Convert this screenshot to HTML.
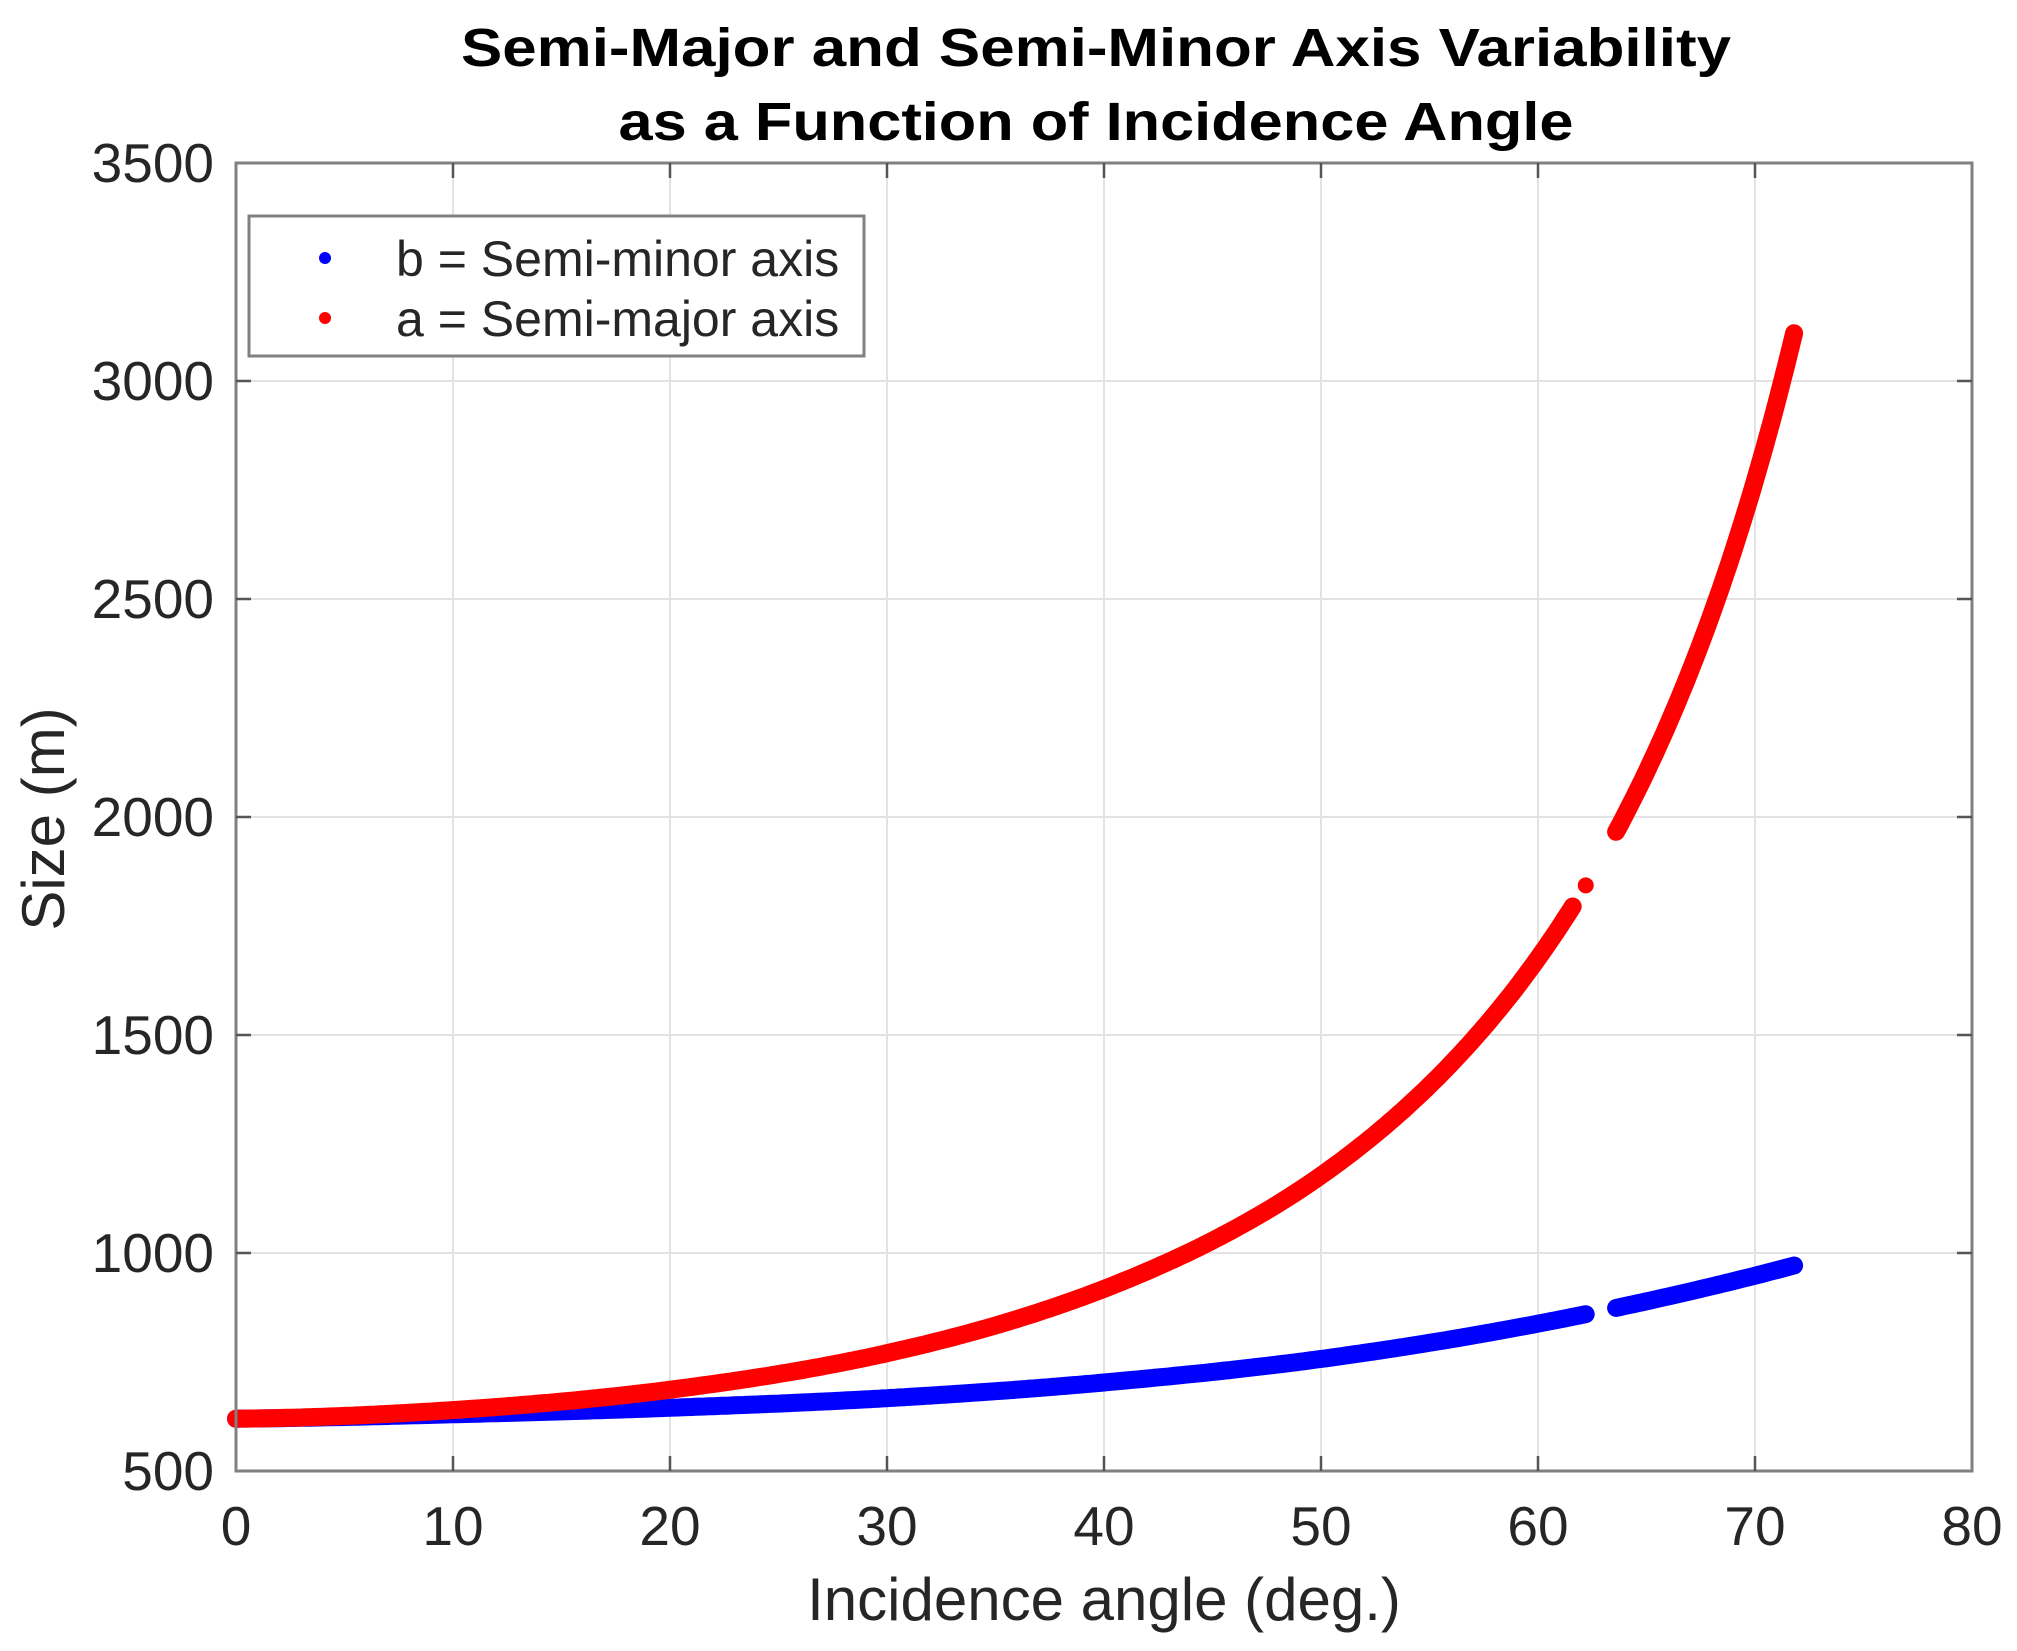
<!DOCTYPE html>
<html><head><meta charset="utf-8"><style>
html,body{margin:0;padding:0;background:#fff;}
svg{display:block;font-family:"Liberation Sans",Arial,sans-serif;}
</style></head><body>
<svg id="s" width="2017" height="1651" viewBox="0 0 2017 1651" xmlns="http://www.w3.org/2000/svg">
<rect width="2017" height="1651" fill="#fff"/>
<g id="grid" stroke="#e3e3e3" stroke-width="2"></g>
<g id="data" fill="none" stroke-linecap="round" stroke-linejoin="round"></g>
<rect x="236" y="163" width="1736" height="1308" fill="none" stroke="#808080" stroke-width="3"/>
<g id="ticks" stroke="#555" stroke-width="2.5"></g>
<g id="labels" fill="#262626" font-size="55"></g>
<text x="1096" y="66" text-anchor="middle" font-size="54" font-weight="bold" fill="#000" textLength="1270" lengthAdjust="spacingAndGlyphs">Semi-Major and Semi-Minor Axis Variability</text>
<text x="1096" y="140" text-anchor="middle" font-size="54" font-weight="bold" fill="#000" textLength="955" lengthAdjust="spacingAndGlyphs">as a Function of Incidence Angle</text>
<text x="1104" y="1620" text-anchor="middle" font-size="60" fill="#262626">Incidence angle (deg.)</text>
<text transform="translate(64,819) rotate(-90)" text-anchor="middle" font-size="60" fill="#262626">Size (m)</text>
<rect x="249" y="216" width="615" height="140" fill="#fff" stroke="#808080" stroke-width="3"/>
<circle cx="325" cy="258" r="6" fill="#0000ff"/>
<circle cx="325" cy="318" r="6" fill="#ff0000"/>
<text x="396" y="276" font-size="50" fill="#262626">b = Semi-minor axis</text>
<text x="396" y="336" font-size="50" fill="#262626">a = Semi-major axis</text>
</svg>
<script>
var NS="http://www.w3.org/2000/svg";
function X(x){return 236+21.7*x;}
function Y(v){return 1471-(v-500)*0.436;}
function el(p,t,a){var e=document.createElementNS(NS,t);for(var k in a)e.setAttribute(k,a[k]);p.appendChild(e);return e;}
var g=document.getElementById('grid'),tk=document.getElementById('ticks'),lb=document.getElementById('labels');
for(var i=0;i<=8;i++){var x=X(i*10);
 if(i>0&&i<8)el(g,'line',{x1:x,y1:163,x2:x,y2:1471});
 if(i>0&&i<8){el(tk,'line',{x1:x,y1:1471,x2:x,y2:1456});el(tk,'line',{x1:x,y1:163,x2:x,y2:178});}
 var t=el(lb,'text',{x:x,y:1545,'text-anchor':'middle'});t.textContent=i*10;}
for(var j=0;j<=6;j++){var v=500+j*500,y=Y(v);
 if(j>0&&j<6){el(g,'line',{x1:236,y1:y,x2:1972,y2:y});el(tk,'line',{x1:236,y1:y,x2:251,y2:y});el(tk,'line',{x1:1972,y1:y,x2:1957,y2:y});}
 var t=el(lb,'text',{x:214,y:y+19,'text-anchor':'end'});t.textContent=v;}
var bx=[-10,0,10,20,30,40,50,60,70,80,90],by=[622,620,630,645,667,703,757,838,948,1090,1260];
function b(x){for(var i=1;i<bx.length-2;i++){if(x<=bx[i+1]){var t=(x-bx[i])/10;
 var p0=by[i-1],p1=by[i],p2=by[i+1],p3=by[i+2];
 return 0.5*((2*p1)+(-p0+p2)*t+(2*p0-5*p1+4*p2-p3)*t*t+(-p0+3*p1-3*p2+p3)*t*t*t);}}return 970;}
function a(x){return b(x)/Math.cos(x*Math.PI/180);}
var d=document.getElementById('data');
function path(fn,x0,x1,col){var s='';for(var x=x0;x<=x1+1e-9;x+=0.2){s+=(s?'L':'M')+X(x).toFixed(1)+','+Y(fn(x)).toFixed(1);}
 el(d,'path',{d:s,stroke:col,'stroke-width':18});}
path(b,0,62.2,'#0000ff');path(b,63.6,71.8,'#0000ff');
path(a,0,61.6,'#ff0000');path(a,63.6,71.8,'#ff0000');
el(d,'circle',{cx:X(62.2),cy:Y(a(62.2)),r:8,fill:'#ff0000',stroke:'none'});
</script>
</body></html>
